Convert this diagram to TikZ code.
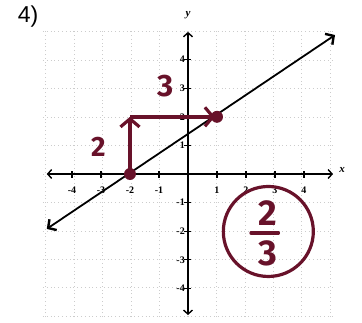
\documentclass[tikz,border=0pt]{standalone}
\usepackage{fontspec}
\setmainfont{Liberation Serif}
\newfontfamily\handfont{Fira Sans}
\newfontfamily\labfont{Liberation Sans}
\usetikzlibrary{arrows.meta}
\definecolor{maroon}{RGB}{104,18,42}
\begin{document}
\begin{tikzpicture}[x=29pt,y=28.6pt,
  gridline/.style={gray!40,line width=0.8pt,dash pattern=on 0.8pt off 3pt},
  axis/.style={black,line width=1.4pt,{Straight Barb[length=4pt,width=9pt,line width=1.4pt]}-{Straight Barb[length=4pt,width=9pt,line width=1.4pt]}},
  tick/.style={black,line width=1.2pt},
  ticklab/.style={font=\bfseries\fontsize{10}{11}\selectfont,inner sep=1pt},
  graphline/.style={black,line width=1.8pt,{Straight Barb[length=6pt,width=13pt,line width=2.4pt]}-{Straight Barb[length=6pt,width=13pt,line width=2.4pt]}},
  dot/.style={circle,fill=maroon,inner sep=0pt,minimum size=12pt},
  marrow/.style={maroon,line width=3.4pt,-{Straight Barb[length=8pt,width=19pt,line width=3.2pt]}},
  hand/.style={maroon,inner sep=0pt},
  ring/.style={circle,draw=maroon,line width=3.2pt,minimum size=90pt,inner sep=0pt},
  axlab/.style={font=\itshape\bfseries\fontsize{11}{12}\selectfont,inner sep=0pt}]
\useasboundingbox (-188pt,-148pt) rectangle (174pt,174pt);
% grid
\draw[gridline] (-5,-5) grid (5,5);
% axes
\coordinate (xl) at (-4.87,0);
\coordinate (xr) at (5.0,0);
\coordinate (yb) at (0,-4.93);
\coordinate (yt) at (0,4.97);
\draw[axis] (xl) -- (xr);
\draw[axis] (yb) -- (yt);
\foreach \i in {-4,-3,-2,-1,1,2,3,4} {
  \draw[tick] (\i,0) ++(0,-3.5pt) -- ++(0,7pt);
  \draw[tick] (0,\i) ++(-3.5pt,0) -- ++(7pt,0);
  \node[ticklab] (xt\i) at ([yshift=-16pt]\i,0) {\i};
  \node[ticklab,anchor=east] (yt\i) at ([xshift=-2pt]0,\i) {\i};
}
\node[axlab] (ylab) at (0pt,159pt) {y};
\node[axlab] (xlab) at (154pt,4pt) {x};
% problem number
\node[font=\labfont\fontsize{23}{25}\selectfont,inner sep=0pt] (num) at (-160pt,157pt) {4)};
% graph line
\coordinate (le) at (-4.87,-1.92);
\coordinate (re) at (5.07,4.86);
\draw[graphline] (le) -- (re);
% slope annotation
\node[dot] (A) at (-2,0) {};
\coordinate (B) at (-2,2);
\node[dot] (C) at (1,2) {};
\draw[marrow] (A.center) -- (B);
\draw[marrow,shorten >=2pt] (B) -- (C.center);
\node[hand,font=\handfont\bfseries\fontsize{28}{30}\selectfont] (rise) at (-3.09,0.95) {2};
\node[hand,font=\handfont\bfseries\fontsize{31}{33}\selectfont] (run) at (-0.79,3.07) {3};
% answer
\node[ring] (ans) at (2.77,-2.01) {};
\node[hand,font=\handfont\bfseries\fontsize{36}{38}\selectfont] (num2) at (2.74,-1.37) {2};
\coordinate (barl) at (2.17,-2.06);
\coordinate (barr) at (3.12,-2.06);
\draw[maroon,line width=3.2pt,line cap=round] (barl) -- (barr);
\node[hand,font=\handfont\bfseries\fontsize{36}{38}\selectfont] (den) at (2.76,-2.77) {3};
\end{tikzpicture}
\end{document}
